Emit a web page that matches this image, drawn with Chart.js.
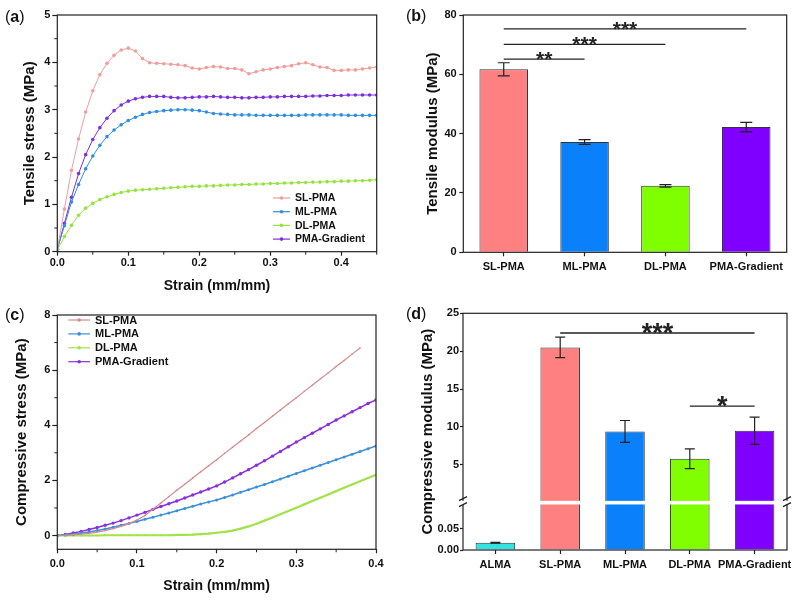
<!DOCTYPE html>
<html>
<head>
<meta charset="utf-8">
<title>PMA mechanical tests</title>
<script src="https://cdn.jsdelivr.net/npm/chart.js@4.4.1/dist/chart.umd.min.js"></script>
<style>
  body { margin: 0; background: #fff; }
  #fig { position: relative; width: 800px; height: 604px; font-family: "Liberation Sans", Arial, sans-serif; }
  .panel { position: absolute; width: 400px; height: 302px; }
  .tag { position: absolute; font-size: 16px; line-height: 16px; color: #111; }
</style>
</head>
<body>
<div id="fig">
  <div class="panel" style="left:0;top:0"><canvas id="chartA"></canvas></div>
  <div class="panel" style="left:400px;top:0"><canvas id="chartB"></canvas></div>
  <div class="panel" style="left:0;top:302px"><canvas id="chartC"></canvas></div>
  <div class="panel" style="left:400px;top:302px"><canvas id="chartD"></canvas></div>
  <div class="tag" style="left:5px;top:9px">(<b>a</b>)</div>
  <div class="tag" style="left:406px;top:8px">(<b>b</b>)</div>
  <div class="tag" style="left:5px;top:307px">(<b>c</b>)</div>
  <div class="tag" style="left:406px;top:306px">(<b>d</b>)</div>
</div>
<script>
// ---- data ----
const seriesNames = ["SL-PMA", "ML-PMA", "DL-PMA", "PMA-Gradient"];

// (a) tensile stress-strain
const strainA = [0, 0.01, 0.02, 0.03, 0.04, 0.05, 0.06, 0.07, 0.08, 0.09, 0.1,
  0.11, 0.12, 0.13, 0.14, 0.15, 0.16, 0.17, 0.18, 0.19, 0.2,
  0.21, 0.22, 0.23, 0.24, 0.25, 0.26, 0.27, 0.28, 0.29, 0.3,
  0.31, 0.32, 0.33, 0.34, 0.35, 0.36, 0.37, 0.38, 0.39, 0.4,
  0.41, 0.42, 0.43, 0.44, 0.45];
const tensileSL = [0.05, 0.9, 1.72, 2.38, 2.95, 3.4, 3.74, 3.98, 4.15, 4.26, 4.3,
  4.24, 4.08, 3.99, 3.98, 3.97, 3.96, 3.95, 3.93, 3.88, 3.86,
  3.89, 3.91, 3.9, 3.87, 3.87, 3.84, 3.76, 3.8, 3.84, 3.86,
  3.89, 3.91, 3.93, 3.97, 3.99, 3.95, 3.9, 3.89, 3.83, 3.83,
  3.84, 3.84, 3.86, 3.88, 3.9];
const tensileML = [0.05, 0.55, 1.05, 1.42, 1.75, 2.02, 2.25, 2.43, 2.57, 2.68, 2.77,
  2.84, 2.9, 2.94, 2.96, 2.98, 2.99, 3.0, 3.0, 2.99, 2.98,
  2.95, 2.92, 2.91, 2.9, 2.89, 2.89, 2.89, 2.88, 2.88, 2.88,
  2.88, 2.88, 2.88, 2.88, 2.89, 2.89, 2.89, 2.89, 2.89, 2.89,
  2.88, 2.88, 2.88, 2.88, 2.88];
const tensileDL = [0.03, 0.32, 0.56, 0.77, 0.92, 1.02, 1.1, 1.16, 1.21, 1.25, 1.28,
  1.3, 1.31, 1.32, 1.33, 1.34, 1.35, 1.36, 1.37, 1.38, 1.38,
  1.39, 1.39, 1.4, 1.41, 1.41, 1.42, 1.42, 1.43, 1.43, 1.44,
  1.44, 1.45, 1.45, 1.46, 1.46, 1.47, 1.47, 1.48, 1.48, 1.49,
  1.49, 1.5, 1.5, 1.51, 1.52];
const tensilePG = [0.05, 0.6, 1.15, 1.65, 2.05, 2.37, 2.62, 2.82, 2.98, 3.1, 3.18,
  3.23, 3.26, 3.28, 3.28, 3.28, 3.26, 3.25, 3.25, 3.26, 3.27,
  3.27, 3.28, 3.27, 3.26, 3.26, 3.25, 3.25, 3.26, 3.26, 3.27,
  3.27, 3.28, 3.28, 3.28, 3.28, 3.29, 3.29, 3.3, 3.3, 3.3,
  3.31, 3.31, 3.31, 3.31, 3.31];

// (b) tensile modulus
const tensileModulus = [61.7, 37.2, 22.4, 42.2];
const tensileErr = [2.2, 0.8, 0.4, 1.6];
const tensileSigFrom = [0, 0, 0];
const tensileSigTo = [1, 2, 3];
const tensileSigLevel = [65.1, 70.1, 75.3];
const tensileSigStars = ["**", "***", "***"];

// (c) compressive stress-strain
const strainC = [0, 0.01, 0.02, 0.03, 0.04, 0.05, 0.06, 0.07, 0.08, 0.09, 0.1,
  0.11, 0.12, 0.13, 0.14, 0.15, 0.16, 0.17, 0.18, 0.19, 0.2,
  0.21, 0.22, 0.23, 0.24, 0.25, 0.26, 0.27, 0.28, 0.29, 0.3,
  0.31, 0.32, 0.33, 0.34, 0.35, 0.36, 0.37, 0.38, 0.39, 0.4];
const compSL = [0, 0.01, 0.03, 0.05, 0.08, 0.12, 0.18, 0.25, 0.33, 0.43, 0.56,
  0.73, 0.95, 1.18, 1.41, 1.64, 1.86, 2.09, 2.31, 2.53, 2.75,
  2.98, 3.2, 3.43, 3.65, 3.88, 4.1, 4.33, 4.55, 4.78, 5.0,
  5.23, 5.45, 5.68, 5.9, 6.13, 6.35, 6.58, 6.8, null, null];
const compML = [0, 0.02, 0.05, 0.09, 0.13, 0.18, 0.24, 0.3, 0.37, 0.44, 0.51,
  0.59, 0.66, 0.74, 0.82, 0.9, 0.98, 1.06, 1.14, 1.22, 1.29,
  1.38, 1.47, 1.57, 1.66, 1.76, 1.85, 1.95, 2.05, 2.15, 2.25,
  2.35, 2.45, 2.55, 2.65, 2.75, 2.85, 2.95, 3.05, 3.15, 3.25];
const compDL = [0, 0, 0, 0, 0, 0, 0.01, 0.01, 0.01, 0.01, 0.01,
  0.01, 0.01, 0.01, 0.01, 0.02, 0.02, 0.03, 0.05, 0.07, 0.1,
  0.13, 0.18, 0.25, 0.33, 0.43, 0.54, 0.65, 0.77, 0.89, 1.01,
  1.13, 1.25, 1.37, 1.49, 1.61, 1.73, 1.85, 1.97, 2.09, 2.2];
const compPG = [0, 0.04, 0.09, 0.15, 0.22, 0.29, 0.37, 0.45, 0.54, 0.64, 0.74,
  0.84, 0.95, 1.05, 1.15, 1.25, 1.36, 1.47, 1.58, 1.69, 1.8,
  1.94, 2.09, 2.24, 2.39, 2.55, 2.71, 2.88, 3.05, 3.22, 3.39,
  3.55, 3.71, 3.87, 4.03, 4.19, 4.34, 4.49, 4.64, 4.79, 4.92];

// (d) compressive modulus (broken axis)
const modGroups = ["ALMA", "SL-PMA", "ML-PMA", "DL-PMA", "PMA-Gradient"];
const compModulus = [0.017, 20.5, 9.4, 5.8, 9.5];
const compErr = [0.001, 1.35, 1.45, 1.3, 1.8];
const compSigFrom = [1, 3];
const compSigTo = [4, 4];
const compSigLevel = [22.4, 12.75];
const compSigStars = ["***", "*"];
const lowMax = 0.11;

// ---- styling ----
const FONT = '"Liberation Sans", Arial, sans-serif';
const lineColors = ["#f29c9c", "#2f8ee0", "#93e43c", "#7b2fe0"];
const compColors = ["#d68a8a", "#3a90da", "#a2e24a", "#8a2fdc"];
const barColors = ["#ff8080", "#0a80fa", "#80ff00", "#8000ff"];
const modColors = ["#33e3e3"].concat(barColors);

Chart.defaults.font.family = FONT;
Chart.defaults.color = "#111";
Chart.defaults.animation = false;

function tickFont(size) { return { family: FONT, size: size, weight: "bold" }; }
function titleFont(size) { return { family: FONT, size: size, weight: "bold" }; }
function axisGrid(len) {
  return { drawOnChartArea: false, drawTicks: true, tickLength: len, tickColor: "#222", tickWidth: 1.2 };
}
function fixWidth(w) { return s => { s.width = w; }; }
function fixHeight(h) { return s => { s.height = h; }; }

function points(xs, ys) { return xs.map((x, i) => ({ x: x, y: ys[i] })); }

// box round the plot area
const frame = {
  id: "frame",
  afterDraw(chart) {
    const { ctx, chartArea: a } = chart;
    ctx.save();
    ctx.strokeStyle = "#222";
    ctx.lineWidth = 1.2;
    ctx.strokeRect(a.left, a.top, a.right - a.left, a.bottom - a.top);
    ctx.restore();
  }
};

// short ticks between the labelled ones
function makeMinor(steps) {
  return {
    id: "minorTicks",
    afterDraw(chart) {
      const ctx = chart.ctx;
      ctx.save();
      ctx.strokeStyle = "#222";
      ctx.lineWidth = 1;
      Object.keys(steps).forEach(id => {
        const s = chart.scales[id], step = steps[id];
        for (let k = Math.ceil(s.min / step - 1e-9); k * step <= s.max + 1e-9; k++) {
          if (k % 2 === 0) continue;
          const p = s.getPixelForValue(k * step);
          ctx.beginPath();
          if (s.isHorizontal()) { ctx.moveTo(p, s.top); ctx.lineTo(p, s.top + 3); }
          else { ctx.moveTo(s.right, p); ctx.lineTo(s.right - 3, p); }
          ctx.stroke();
        }
      });
      ctx.restore();
    }
  };
}

// legend drawn inside the plot
function makeLegend(x, y, dy, len, size) {
  return {
    id: "insideLegend",
    afterDatasetsDraw(chart) {
      const ctx = chart.ctx;
      ctx.save();
      ctx.font = "bold " + size + "px " + FONT;
      ctx.textBaseline = "middle";
      ctx.textAlign = "left";
      chart.data.datasets.forEach((ds, i) => {
        const yy = y + i * dy;
        ctx.strokeStyle = ds.borderColor;
        ctx.lineWidth = 1.2;
        ctx.beginPath(); ctx.moveTo(x, yy); ctx.lineTo(x + len, yy); ctx.stroke();
        ctx.fillStyle = ds.pointBackgroundColor || ds.borderColor;
        ctx.beginPath(); ctx.arc(x + len / 2, yy, 1.8, 0, Math.PI * 2); ctx.fill();
        ctx.fillStyle = "#111";
        ctx.fillText(ds.label, x + len + 5, yy + 0.5);
      });
      ctx.restore();
    }
  };
}

function makeErrorBars(values, errs, axisIds, cap) {
  return {
    id: "errorBars",
    afterDatasetsDraw(chart) {
      const ctx = chart.ctx, xs = chart.scales.x;
      ctx.save();
      ctx.strokeStyle = "#222";
      ctx.lineWidth = 1.2;
      values.forEach((v, i) => {
        const ys = chart.scales[axisIds[i]];
        const x = xs.getPixelForValue(i);
        const y1 = ys.getPixelForValue(v - errs[i]), y2 = ys.getPixelForValue(v + errs[i]);
        ctx.beginPath();
        ctx.moveTo(x, y1); ctx.lineTo(x, y2);
        ctx.moveTo(x - cap / 2, y1); ctx.lineTo(x + cap / 2, y1);
        ctx.moveTo(x - cap / 2, y2); ctx.lineTo(x + cap / 2, y2);
        ctx.stroke();
      });
      ctx.restore();
    }
  };
}

function makeSig(from, to, level, stars, axisId, size, lift) {
  return {
    id: "sigLines",
    afterDatasetsDraw(chart) {
      const ctx = chart.ctx, xs = chart.scales.x, ys = chart.scales[axisId];
      ctx.save();
      ctx.strokeStyle = "#222";
      ctx.fillStyle = "#222";
      ctx.lineWidth = 1.3;
      ctx.font = "bold " + size + "px " + FONT;
      ctx.textAlign = "center";
      ctx.textBaseline = "alphabetic";
      level.forEach((lv, i) => {
        const x1 = xs.getPixelForValue(from[i]), x2 = xs.getPixelForValue(to[i]);
        const y = ys.getPixelForValue(lv);
        ctx.beginPath(); ctx.moveTo(x1, y); ctx.lineTo(x2, y); ctx.stroke();
        ctx.fillText(stars[i], (x1 + x2) / 2, y + lift);
      });
      ctx.restore();
    }
  };
}

function lineSet(label, xs, ys, color, width, radius) {
  return {
    label: label,
    data: points(xs, ys),
    borderColor: color,
    backgroundColor: color,
    pointBackgroundColor: color,
    pointBorderColor: color,
    pointRadius: radius,
    pointBorderWidth: 0,
    borderWidth: width,
    tension: 0,
    spanGaps: false
  };
}

// ---- (a) ----
new Chart(document.getElementById("chartA"), {
  type: "line",
  data: {
    datasets: [
      lineSet(seriesNames[0], strainA, tensileSL, lineColors[0], 1, 1.8),
      lineSet(seriesNames[1], strainA, tensileML, lineColors[1], 1, 1.8),
      lineSet(seriesNames[2], strainA, tensileDL, lineColors[2], 1, 1.8),
      lineSet(seriesNames[3], strainA, tensilePG, lineColors[3], 1, 1.8)
    ]
  },
  options: {
    responsive: true,
    maintainAspectRatio: false,
    layout: { padding: { left: 0, top: 15, right: 23.3, bottom: 0 } },
    plugins: { legend: { display: false }, tooltip: { enabled: false } },
    scales: {
      x: {
        type: "linear", min: 0, max: 0.45,
        border: { display: false },
        grid: axisGrid(4),
        ticks: { stepSize: 0.1, includeBounds: false, padding: 1, font: tickFont(11), color: "#111",
                 callback: v => v.toFixed(1) },
        title: { display: true, text: "Strain (mm/mm)", font: titleFont(14), color: "#111",
                 padding: { top: 0, bottom: 7.6 } },
        afterFit: fixHeight(50.3)
      },
      y: {
        min: 0, max: 5,
        border: { display: false },
        grid: axisGrid(5),
        ticks: { stepSize: 1, padding: 2, font: tickFont(11), color: "#111" },
        title: { display: true, text: "Tensile stress (MPa)", font: titleFont(15), color: "#111",
                 padding: { top: 21, bottom: 0 } },
        afterFit: fixWidth(57.3)
      }
    }
  },
  plugins: [makeMinor({ x: 0.05, y: 0.5 }), frame, makeLegend(273, 198, 13.7, 17, 10.5)]
});

// ---- (b) ----
new Chart(document.getElementById("chartB"), {
  type: "bar",
  data: {
    labels: seriesNames,
    datasets: [{
      data: tensileModulus,
      backgroundColor: barColors,
      borderColor: "#333",
      borderWidth: 1,
      categoryPercentage: 1,
      barPercentage: 0.6
    }]
  },
  options: {
    responsive: true,
    maintainAspectRatio: false,
    layout: { padding: { left: 0, top: 15, right: 13.3, bottom: 0 } },
    plugins: { legend: { display: false }, tooltip: { enabled: false } },
    scales: {
      x: {
        border: { display: false },
        grid: Object.assign(axisGrid(4), { offset: false }),
        ticks: { padding: 4, font: tickFont(11), color: "#111", maxRotation: 0, autoSkip: false },
        afterFit: fixHeight(49.7)
      },
      y: {
        min: 0, max: 80,
        border: { display: false },
        grid: axisGrid(4),
        ticks: { stepSize: 20, padding: 2.6, font: tickFont(11), color: "#111" },
        title: { display: true, text: "Tensile modulus (MPa)", font: titleFont(15), color: "#111",
                 padding: { top: 24, bottom: 0 } },
        afterFit: fixWidth(63.3)
      }
    }
  },
  plugins: [
    makeErrorBars(tensileModulus, tensileErr, ["y", "y", "y", "y"], 12),
    makeSig(tensileSigFrom, tensileSigTo, tensileSigLevel, tensileSigStars, "y", 21, 6.7),
    frame
  ]
});

// ---- (c) ----
new Chart(document.getElementById("chartC"), {
  type: "line",
  data: {
    datasets: [
      lineSet(seriesNames[0], strainC, compSL, compColors[0], 1.2, 0.8),
      lineSet(seriesNames[1], strainC, compML, compColors[1], 1.5, 1.5),
      lineSet(seriesNames[2], strainC, compDL, compColors[2], 2.2, 1.0),
      lineSet(seriesNames[3], strainC, compPG, compColors[3], 1.5, 1.7)
    ]
  },
  options: {
    responsive: true,
    maintainAspectRatio: false,
    layout: { padding: { left: 0, top: 13, right: 24, bottom: 0 } },
    plugins: { legend: { display: false }, tooltip: { enabled: false } },
    scales: {
      x: {
        type: "linear", min: 0, max: 0.4,
        border: { display: false },
        grid: axisGrid(4),
        ticks: { stepSize: 0.1, includeBounds: false, padding: 4, font: tickFont(11), color: "#111",
                 callback: v => v.toFixed(1) },
        title: { display: true, text: "Strain (mm/mm)", font: titleFont(14), color: "#111",
                 padding: { top: 0, bottom: 9.6 } },
        afterFit: fixHeight(54.7)
      },
      y: {
        min: -0.5, max: 8,
        border: { display: false },
        grid: axisGrid(5),
        ticks: { stepSize: 2, includeBounds: false, padding: 2, font: tickFont(11), color: "#111" },
        title: { display: true, text: "Compressive stress (MPa)", font: titleFont(15), color: "#111",
                 padding: { top: 12.7, bottom: 0 } },
        afterFit: fixWidth(57.3)
      }
    }
  },
  plugins: [makeMinor({ x: 0.05, y: 1 }), frame, makeLegend(68.3, 18, 13.9, 21.7, 11)]
});

// ---- (d) ----
const modAxes = compModulus.map(v => (v > lowMax ? "yHigh" : "yLow"));
const axisBreak = {
  id: "axisBreak",
  afterDraw(chart) {
    const { ctx, chartArea: a } = chart;
    const y = chart.scales.yLow.top;
    ctx.save();
    ctx.fillStyle = "#fff";
    ctx.fillRect(a.left - 6, y - 1.8, a.right - a.left + 12, 3.6);
    ctx.strokeStyle = "#222";
    ctx.lineWidth = 1.2;
    [a.left, a.right].forEach(x => {
      ctx.beginPath();
      ctx.moveTo(x - 4, y - 2); ctx.lineTo(x + 4, y - 6);
      ctx.moveTo(x - 4, y + 4); ctx.lineTo(x + 4, y);
      ctx.stroke();
    });
    // y title centred over both axis pieces
    ctx.fillStyle = "#111";
    ctx.font = "bold 15px " + FONT;
    ctx.textAlign = "center";
    ctx.textBaseline = "middle";
    ctx.translate(28.3, (a.top + a.bottom) / 2);
    ctx.rotate(-Math.PI / 2);
    ctx.fillText("Compressive modulus (MPa)", 0, 0);
    ctx.restore();
  }
};

new Chart(document.getElementById("chartD"), {
  type: "bar",
  data: {
    labels: modGroups,
    datasets: [
      {
        data: compModulus.map(v => Math.min(v, lowMax)),
        yAxisID: "yLow",
        grouped: false,
        backgroundColor: modColors,
        borderColor: "#333",
        borderWidth: 1,
        categoryPercentage: 1,
        barPercentage: 0.61
      },
      {
        data: compModulus.map(v => (v > lowMax ? v : null)),
        yAxisID: "yHigh",
        grouped: false,
        backgroundColor: modColors,
        borderColor: "#333",
        borderWidth: 1,
        categoryPercentage: 1,
        barPercentage: 0.61
      }
    ]
  },
  options: {
    responsive: true,
    maintainAspectRatio: false,
    layout: { padding: { left: 0, top: 11.3, right: 13, bottom: 0 } },
    plugins: { legend: { display: false }, tooltip: { enabled: false } },
    scales: {
      x: {
        border: { display: false },
        grid: Object.assign(axisGrid(4), { offset: false }),
        ticks: { padding: 4, font: tickFont(11), color: "#111", maxRotation: 0, autoSkip: false },
        afterFit: fixHeight(54)
      },
      // the stack is laid out bottom-up, so the low piece is declared first
      yLow: {
        type: "linear", position: "left", stack: "mod", stackWeight: 1,
        min: 0, max: lowMax,
        border: { display: false },
        grid: Object.assign(axisGrid(3), { tickColor: c => (c.tick && c.tick.value > 0.06 ? "rgba(0,0,0,0)" : "#222") }),
        ticks: { stepSize: 0.05, includeBounds: false, autoSkip: false, padding: 1, font: tickFont(11), color: "#111",
                 callback: v => (v > 0.06 ? "" : v.toFixed(2)) },
        afterFit: fixWidth(63)
      },
      yHigh: {
        type: "linear", position: "left", stack: "mod", stackWeight: 4,
        min: 0, max: 25,
        border: { display: false },
        grid: Object.assign(axisGrid(3), { tickColor: c => (c.tick && c.tick.value === 0 ? "rgba(0,0,0,0)" : "#222") }),
        ticks: { stepSize: 5, autoSkip: false, padding: 1, font: tickFont(11), color: "#111",
                 callback: v => (v === 0 ? "" : v) },
        afterFit: fixWidth(63)
      }
    }
  },
  plugins: [
    makeErrorBars(compModulus, compErr, modAxes, 10),
    makeSig(compSigFrom, compSigTo, compSigLevel, compSigStars, "yHigh", 27, 9.1),
    frame,
    axisBreak
  ]
});
</script>
</body>
</html>
